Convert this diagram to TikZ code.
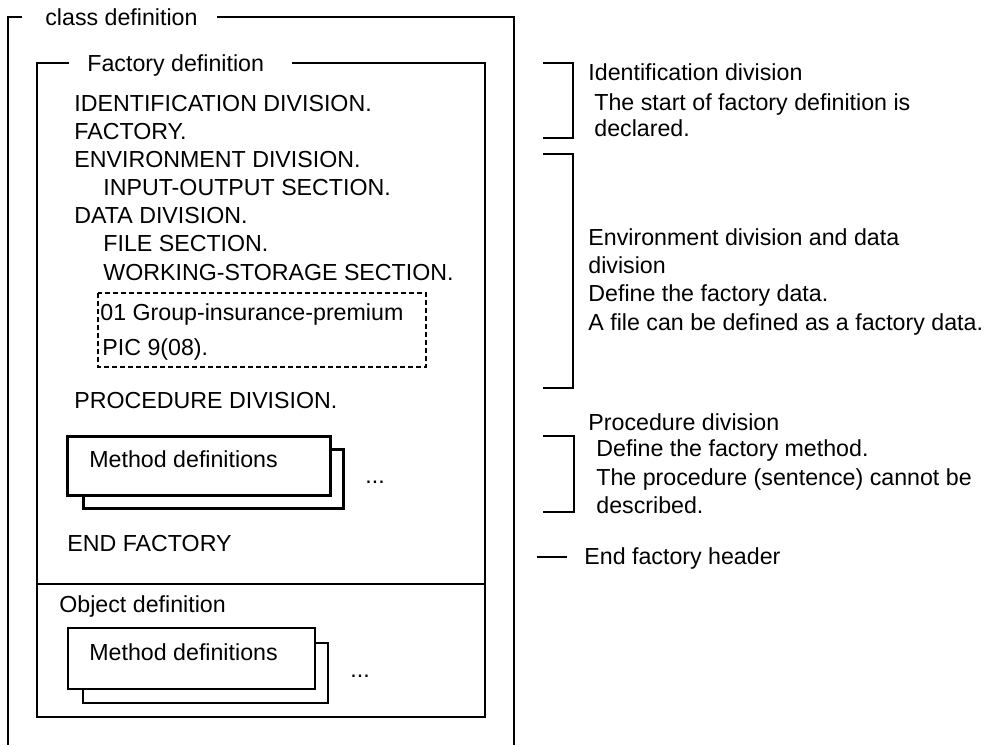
\documentclass[tikz,border=0pt]{standalone}
\usepackage{fontspec}
\setmainfont{Liberation Sans}
\begin{document}
\begin{tikzpicture}[x=0.5pt,y=-0.5pt,
  txt/.style={inner sep=0pt, anchor=west, text height=8.3pt, text depth=0pt, font=\fontsize{11.6}{14}\selectfont},
  dots/.style={inner sep=0pt, anchor=base west, font=\fontsize{11.6}{14}\selectfont},
  ln/.style={line width=0.6pt},
  thkbox/.style={line width=1.5pt, fill=white},
  thnbox/.style={line width=0.7pt, fill=white},
  dbox/.style={line width=0.6pt, dash pattern=on 2.5pt off 1.5pt}]
\useasboundingbox (0,0) rectangle (989,745);
% class definition frame
\node[txt] (cls) at (45,17) {class definition};
\draw[ln] (22,17) -- (8,17) -- (8,745);
\draw[ln] (217,17) -- (514,17) -- (514,745);
% factory definition frame
\node[txt] (fac) at (87,63) {Factory definition};
\draw[ln] (69,63) -- (37,63) -- (37,717) -- (485,717) -- (485,63) -- (292,63);
\draw[ln] (37,584) -- (485,584);
% factory text
\node[txt] (t1) at (74,103) {IDENTIFICATION DIVISION.};
\node[txt] (t2) at (74,131) {FACTORY.};
\node[txt] (t3) at (74,159) {ENVIRONMENT DIVISION.};
\node[txt] (t4) at (103,187) {INPUT-OUTPUT SECTION.};
\node[txt] (t5) at (74,215) {DATA DIVISION.};
\node[txt] (t6) at (103,243) {FILE SECTION.};
\node[txt] (t7) at (103,272) {WORKING-STORAGE SECTION.};
\draw[dbox] (98,293) rectangle (426,367);
\node[txt] (t8) at (100,312) {01 Group-insurance-premium};
\node[txt] (t9) at (102,347) {PIC 9(08).};
\node[txt] (t10) at (74,400) {PROCEDURE DIVISION.};
% factory method definitions
\draw[thkbox] (83,449) rectangle (343,508);
\draw[thkbox] (67,436) rectangle (330,495);
\node[txt] (m1) at (89,459) {Method definitions};
\node[dots] (d1) at (365,483) {...};
\node[txt] (t11) at (67,543) {END FACTORY};
% object definition
\node[txt] (obj) at (59,604) {Object definition};
\draw[thnbox] (83,643) rectangle (328,703);
\draw[thnbox] (68,628) rectangle (315,689);
\node[txt] (m2) at (89,652) {Method definitions};
\node[dots] (d2) at (350,677) {...};
% right brackets
\draw[ln] (543,63) -- (573,63) -- (573,138) -- (543,138);
\node[txt] (r1) at (588,72) {Identification division};
\node[txt] (r2) at (594,102) {The start of factory definition is};
\node[txt] (r3) at (594,128) {declared.};
\draw[ln] (543,154) -- (573,154) -- (573,388) -- (543,388);
\node[txt] (r4) at (588,237) {Environment division and data};
\node[txt] (r5) at (588,265) {division};
\node[txt] (r6) at (588,293) {Define the factory data.};
\node[txt] (r7) at (588,322) {A file can be defined as a factory data.};
\draw[ln] (543,436) -- (574,436) -- (574,512) -- (543,512);
\node[txt] (r8) at (588,422) {Procedure division};
\node[txt] (r9) at (596,448) {Define the factory method.};
\node[txt] (r10) at (596,477) {The procedure (sentence) cannot be};
\node[txt] (r11) at (596,505) {described.};
\coordinate (e0) at (537,557);
\node[txt] (r12) at (584,556) {End factory header};
\draw[ln] (e0) -- ++(30,0);
\end{tikzpicture}
\end{document}
